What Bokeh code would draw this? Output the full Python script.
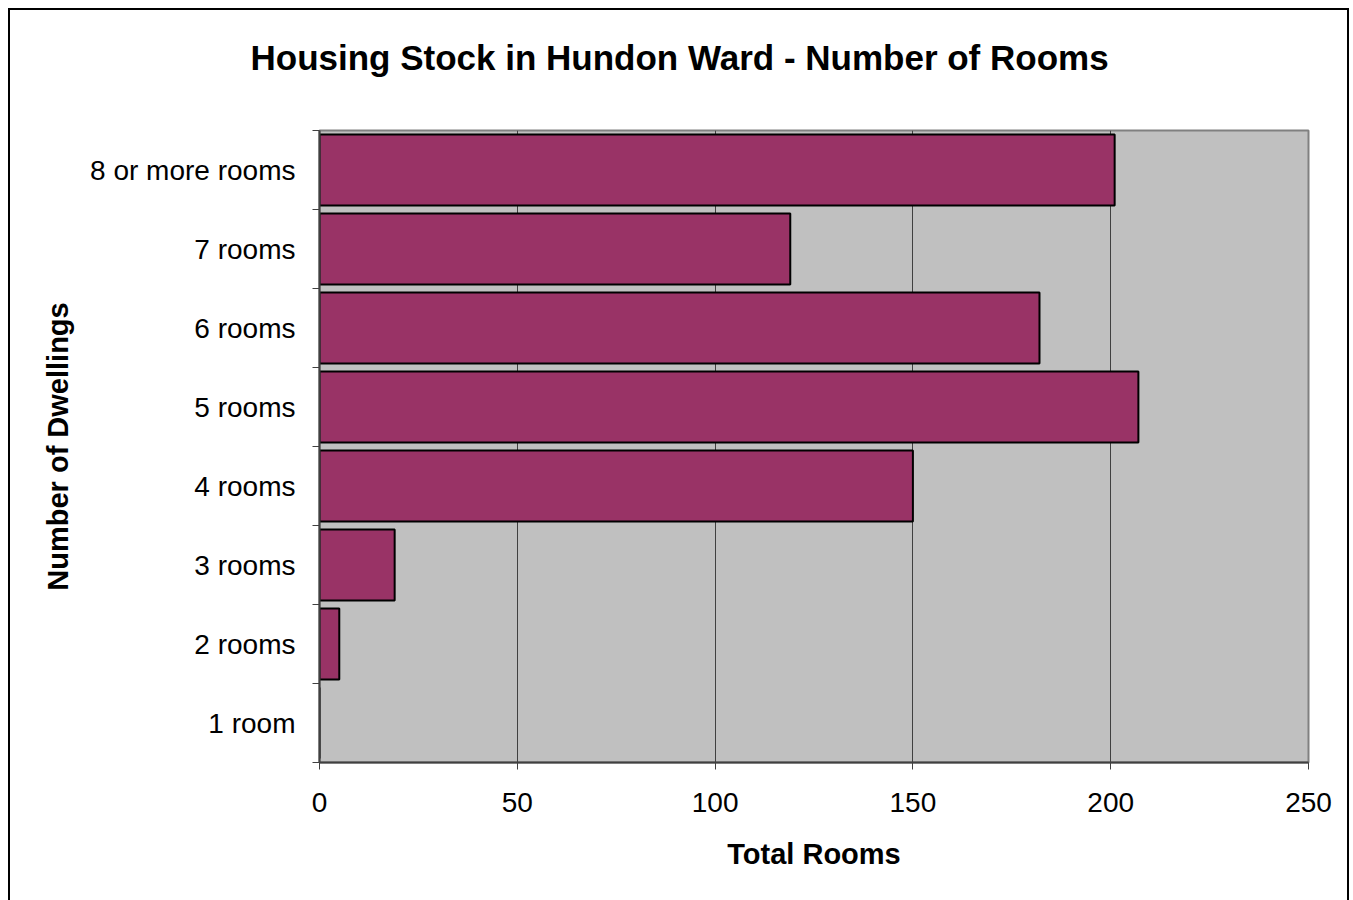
from bokeh.plotting import figure
from bokeh.models import FixedTicker, Range1d, ColumnDataSource, Title
from bokeh.embed import file_html
from bokeh.resources import INLINE

TITLE = "Housing Stock in Hundon Ward - Number of Rooms"
categories = ["1 room", "2 rooms", "3 rooms", "4 rooms", "5 rooms",
              "6 rooms", "7 rooms", "8 or more rooms"]
rooms = [0, 5, 19, 150, 207, 182, 119, 201]
x_ticks = [0, 50, 100, 150, 200, 250]

pos = [i + 0.5 for i in range(len(categories))]
src = ColumnDataSource(dict(y=pos, right=rooms, cat=categories))

FONT = "Liberation Sans"

p = figure(width=1341, height=892, output_backend="svg", toolbar_location=None,
           x_range=Range1d(0, 250), y_range=Range1d(0, len(categories)),
           min_border_left=309, min_border_right=43, min_border_top=120,
           min_border_bottom=140)
p.styles = {"margin-left": "8px", "margin-top": "8px",
            "border-left": "2px solid black", "border-top": "2px solid black",
            "border-right": "2px solid black"}

# invisible spacer between the title and the frame
p.add_layout(Title(text=" ", text_font_size="10px", standoff=41), "above")

p.title.text = TITLE
p.title.text_font = FONT
p.title.text_font_size = "35px"
p.title.text_font_style = "bold"
p.title.text_color = "black"
p.title.align = "left"
p.title.offset = -69
p.title.standoff = 0

p.background_fill_color = "#C0C0C0"
p.border_fill_color = "white"
p.outline_line_color = "#808080"
p.outline_line_width = 2

p.hbar(y="y", right="right", left=0, height=0.9, source=src,
       fill_color="#993366", line_color="black", line_width=2)

# x axis
p.xaxis.ticker = FixedTicker(ticks=x_ticks)
p.xaxis.axis_label = "Total Rooms"
p.xaxis.major_tick_out = 7
p.xaxis.major_tick_in = 0
p.xaxis.minor_tick_out = 0
p.xaxis.minor_tick_in = 0
p.xaxis.major_label_standoff = 23
p.xaxis.axis_label_standoff = 23

# y axis
p.yaxis.ticker = FixedTicker(ticks=pos, minor_ticks=list(range(len(categories) + 1)))
p.yaxis.major_label_overrides = {pp: c for pp, c in zip(pos, categories)}
p.yaxis.axis_label = "Number of Dwellings"
p.yaxis.major_tick_out = 0
p.yaxis.major_tick_in = 0
p.yaxis.minor_tick_out = 7
p.yaxis.minor_tick_in = 0
p.yaxis.major_label_standoff = 17
p.yaxis.axis_label_standoff = 13

for ax in (p.xaxis, p.yaxis):
    ax.axis_line_color = "#404040"
    ax.axis_line_width = 2
    ax.major_tick_line_color = "#404040"
    ax.minor_tick_line_color = "#404040"
    ax.major_label_text_font = FONT
    ax.major_label_text_font_size = "28px"
    ax.major_label_text_color = "black"
    ax.axis_label_text_font = FONT
    ax.axis_label_text_font_size = "29px"
    ax.axis_label_text_font_style = "bold"
    ax.axis_label_text_color = "black"

p.ygrid.visible = False
p.xgrid.ticker = FixedTicker(ticks=x_ticks)
p.xgrid.grid_line_color = "#404040"
p.xgrid.grid_line_width = 1

open("out.html", "w").write(file_html(p, INLINE))
